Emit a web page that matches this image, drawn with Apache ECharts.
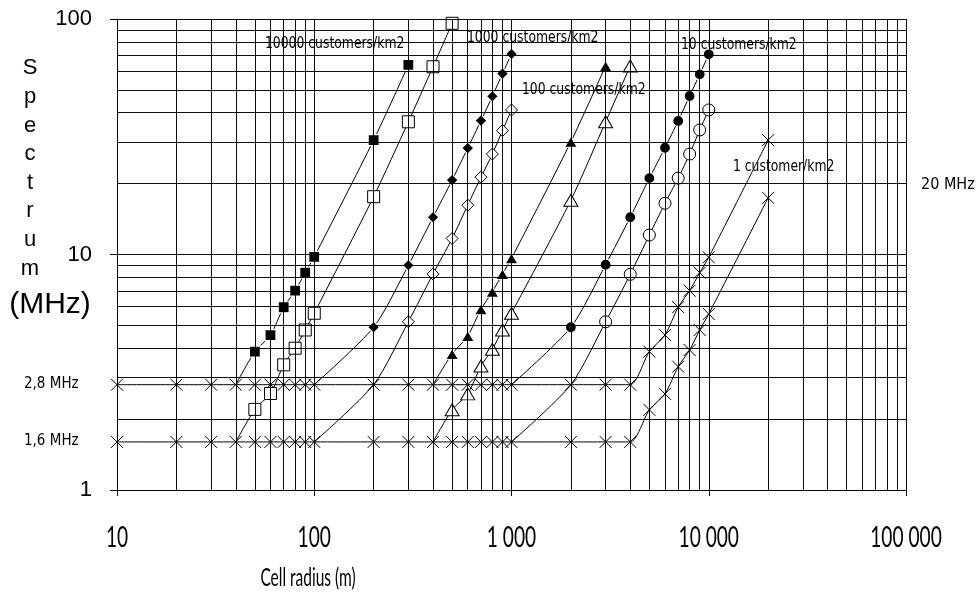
<!DOCTYPE html>
<html>
<head>
<meta charset="utf-8">
<script src="https://cdn.jsdelivr.net/npm/echarts@6/dist/echarts.min.js"></script>
<style>html,body{margin:0;padding:0;background:#fff}#c{width:979px;height:601px}</style>
</head>
<body>
<div id="c"></div>
<script>
// ---- tick labels / grid values ----
const xTicks = [10, 100, 1000, 10000, 100000];
const xTickLabels = ['10', '100', '1 000', '10 000', '100 000'];
const yTicks = [1, 10, 100];
const xGridLines = [10,20,30,40,50,60,70,80,90,100,200,300,400,500,600,700,800,900,1000,2000,3000,4000,5000,6000,7000,8000,9000,10000,20000,30000,40000,50000,60000,70000,80000,90000,100000];
const yGridLines = [1,2,3,4,5,6,7,8,9,10,20,30,40,50,60,70,80,90,100];

// ---- series data (cell radius m, spectrum MHz) ----
// 1 customer/km2 (X markers), upper (2.8 MHz floor) and lower (1.6 MHz floor)
const rCustOne = [10,20,30,40,50,60,70,80,90,100,200,300,400,500,600,700,800,900,1000,2000,3000,4000,5000,6000,7000,8000,9000,10000,20000];
const vCustOneHigh = [2.8,2.8,2.8,2.8,2.8,2.8,2.8,2.8,2.8,2.8,2.8,2.8,2.8,2.8,2.8,2.8,2.8,2.8,2.8,2.8,2.8,2.8,3.87,4.55,5.98,7.02,8.37,9.73,30.6];
const vCustOneLow  = [1.6,1.6,1.6,1.6,1.6,1.6,1.6,1.6,1.6,1.6,1.6,1.6,1.6,1.6,1.6,1.6,1.6,1.6,1.6,1.6,1.6,1.6,2.19,2.56,3.34,3.93,4.78,5.59,17.4];
// 10000 customers/km2 (squares)
const rSqFilled = [40,50,60,70,80,90,100,200,300];
const vSqFilled = [2.8,3.87,4.55,5.97,7.02,8.37,9.78,30.6,63.8];
const rSqHollow = [40,50,60,70,80,90,100,200,300,400,500];
const vSqHollow = [1.6,2.2,2.57,3.4,4.0,4.78,5.63,17.6,36.6,62.7,95.9];
// 1000 customers/km2 (diamonds)
const rDiaFilled = [100,200,300,400,500,600,700,800,900,1000];
const vDiaFilled = [2.8,4.91,9.0,14.4,20.7,28.3,37.0,47.0,58.6,71.0];
const rDiaHollow = [100,200,300,400,500,600,700,800,900,1000];
const vDiaHollow = [1.6,2.8,5.18,8.27,11.7,16.2,21.3,26.7,33.6,41.1];
// 100 customers/km2 (triangles)
const rTriFilled = [400,500,600,700,800,900,1000,2000,3000];
const vTriFilled = [2.8,3.78,4.51,5.85,6.95,8.27,9.63,30.1,63.2];
const rTriHollow = [400,500,600,700,800,900,1000,2000,3000,4000];
const vTriHollow = [1.6,2.19,2.56,3.36,3.96,4.78,5.63,17.0,36.6,63.2];
// 10 customers/km2 (circles)
const rCirFilled = [1000,2000,3000,4000,5000,6000,7000,8000,9000,10000];
const vCirFilled = [2.8,4.91,9.05,14.4,21.1,28.4,36.9,47.1,58.2,70.8];
const rCirHollow = [1000,2000,3000,4000,5000,6000,7000,8000,9000,10000];
const vCirHollow = [1.6,2.8,5.18,8.24,12.1,16.5,21.1,26.7,33.8,41.1];

// ---- texts ----
const curveLabels = ['10000 customers/km2','1000 customers/km2','100 customers/km2','10 customers/km2','1 customer/km2'];
const floorLabels = ['2,8 MHz','1,6 MHz','20 MHz'];
const xName = 'Cell radius (m)';
const yNameLetters = ['S','p','e','c','t','r','u','m'];
const yUnit = '(MHz)';

const NARROW = "'DejaVu Sans Condensed','DejaVu Sans',sans-serif";
const REG = "'Liberation Sans',Arial,sans-serif";
const LATO = "Lato,'Liberation Sans',sans-serif";
const XPATH = 'path://M0,0L10,10M10,0L0,10';

function pts(r, v, hide) {
  return v.map((y, i) => i < hide ? {value: [r[i], y], symbol: 'none'} : {value: [r[i], y]});
}
function lineSeries(r, v, hide, symbol, size, filled) {
  return {
    type: 'line', z: 3, smooth: 0.25, data: pts(r, v, hide),
    symbol: symbol, symbolSize: size, showSymbol: true,
    lineStyle: {color: '#000', width: 1},
    itemStyle: filled ? {color: '#000', borderColor: '#fff', borderWidth: 1.2}
                      : {color: '#fff', borderColor: '#000', borderWidth: 1},
    emphasis: {disabled: true}, silent: true
  };
}
function xSeries(r, v) {
  return {
    type: 'line', z: 3, smooth: 0.25, data: pts(r, v, 0),
    symbol: XPATH, symbolSize: 12, showSymbol: true,
    lineStyle: {color: '#000', width: 1},
    itemStyle: {color: 'rgba(0,0,0,0)', borderColor: '#000', borderWidth: 1},
    emphasis: {disabled: true}, silent: true
  };
}
function xHalo(r, v) {
  return {
    type: 'scatter', z: 2, data: v.map((y, i) => [r[i], y]),
    symbol: XPATH, symbolSize: 12,
    itemStyle: {color: 'rgba(0,0,0,0)', borderColor: '#fff', borderWidth: 4},
    emphasis: {disabled: true}, silent: true
  };
}

const gridSeries = {
  type: 'scatter', z: 1, data: [], silent: true,
  markLine: {
    silent: true, symbol: ['none', 'none'], animation: false,
    label: {show: false},
    lineStyle: {color: '#000', width: 1, type: 'solid', opacity: 0.95},
    emphasis: {disabled: true},
    data: xGridLines.map(x => ({xAxis: x})).concat(yGridLines.map(y => ({yAxis: y})))
  }
};

function txt(text, x, y, font, align, sx) {
  return {type: 'text', x: x, y: y, silent: true, z: 10, scaleX: sx || 1,
    style: {text: text, font: font, fill: '#000', textAlign: align || 'left', textVerticalAlign: 'middle'}};
}

const chart = echarts.init(document.getElementById('c'), null, {renderer: 'canvas'});
chart.setOption({
  animation: false,
  backgroundColor: '#fff',
  grid: {left: 117, right: 73, top: 19, bottom: 111, containLabel: false},
  xAxis: {
    type: 'log', logBase: 10, min: 10, max: 100000,
    axisLine: {show: true, lineStyle: {color: '#000', width: 1}},
    axisTick: {show: true, length: 6, lineStyle: {color: '#000'}},
    axisLabel: {show: false},
    splitLine: {show: false}, minorTick: {show: false}, minorSplitLine: {show: false}
  },
  yAxis: {
    type: 'log', logBase: 10, min: 1, max: 100,
    axisLine: {show: true, lineStyle: {color: '#000', width: 1}},
    axisTick: {show: true, length: 7, lineStyle: {color: '#000'}},
    axisLabel: {
      margin: 25, fontSize: 22, fontFamily: REG, color: '#000',
      formatter: v => yTicks.indexOf(v) >= 0 ? String(v) : ''
    },
    splitLine: {show: false}, minorTick: {show: false}, minorSplitLine: {show: false}
  },
  series: [
    gridSeries,
    xHalo(rCustOne, vCustOneHigh),
    xHalo(rCustOne, vCustOneLow),
    xSeries(rCustOne, vCustOneHigh),
    xSeries(rCustOne, vCustOneLow),
    lineSeries(rSqFilled, vSqFilled, 1, 'rect', 11, true),
    lineSeries(rSqHollow, vSqHollow, 1, 'rect', 12, false),
    lineSeries(rDiaFilled, vDiaFilled, 1, 'diamond', 12, true),
    lineSeries(rDiaHollow, vDiaHollow, 2, 'diamond', 12, false),
    lineSeries(rTriFilled, vTriFilled, 1, 'triangle', [13, 11], true),
    lineSeries(rTriHollow, vTriHollow, 1, 'triangle', [14, 12], false),
    lineSeries(rCirFilled, vCirFilled, 1, 'circle', 11, true),
    lineSeries(rCirHollow, vCirHollow, 2, 'circle', 12, false)
  ]
});

// x tick labels placed through the axis scale (narrow, tall face like the original)
const axisY = chart.convertToPixel({yAxisIndex: 0}, 1);
const tickTexts = xTicks.map((v, i) => txt(xTickLabels[i], chart.convertToPixel({xAxisIndex: 0}, v), axisY + 48, '29px ' + LATO, 'center', 0.66));

chart.setOption({
  graphic: [
    {type: 'text', x: 30, y: 54, silent: true,
      style: {text: yNameLetters.join('\n'), font: '22px ' + REG, fill: '#000', textAlign: 'center', lineHeight: 28.6}},
    txt(yUnit, 50, 305, '30px ' + REG, 'center'),
    txt(floorLabels[0], 24, 384, '15px ' + NARROW),
    txt(floorLabels[1], 24, 441, '15px ' + NARROW),
    txt(floorLabels[2], 921, 185, '16px ' + NARROW),
    txt(curveLabels[0], 265, 44, '16px ' + NARROW, 'left', 0.86),
    txt(curveLabels[1], 467, 38, '16px ' + NARROW, 'left', 0.86),
    txt(curveLabels[2], 522, 90, '16px ' + NARROW, 'left', 0.86),
    txt(curveLabels[3], 681, 45, '16px ' + NARROW, 'left', 0.86),
    txt(curveLabels[4], 733, 167, '16px ' + NARROW, 'left', 0.86),
    txt(xName, 308, 578, '25px ' + LATO, 'center', 0.62)
  ].concat(tickTexts)
});
</script>
</body>
</html>
